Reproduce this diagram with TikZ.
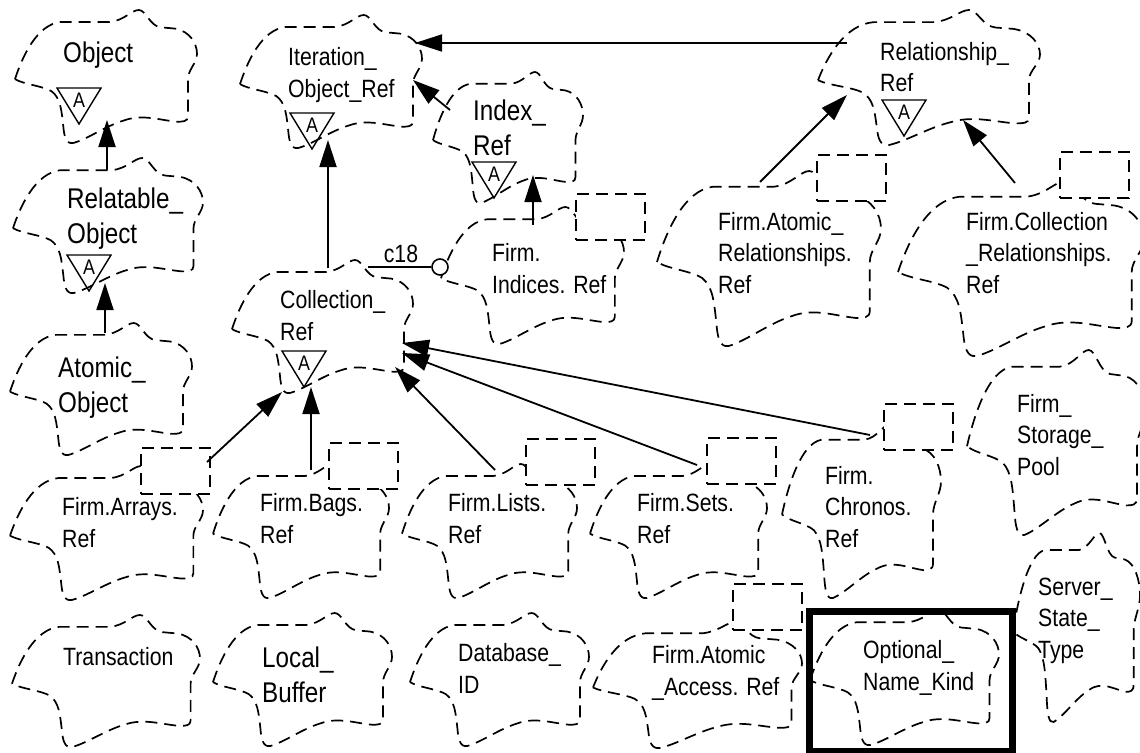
\documentclass[tikz,border=0pt]{standalone}
\usepackage{fontspec}
\setmainfont[FakeStretch=0.85]{Liberation Sans}
\usetikzlibrary{arrows.meta}
\newcommand\clsfont{\fontsize{25}{31.5}\selectfont}
\newcommand\clsbig{\fontsize{28.5}{35}\selectfont}
\tikzset{
  cls/.style={inner sep=0pt,anchor=base west,align=left,font=\clsfont},
  big/.style={font=\clsbig},
  cloudline/.style={dash pattern=on 12pt off 7pt,line width=1.7pt},
  parm/.style={draw,dash pattern=on 12pt off 7pt,line width=1.7pt,fill=white,inner sep=0pt,
    minimum width=69pt,minimum height=46pt,anchor=north west},
  inh/.style={-{Triangle[length=27pt,width=17pt]},line width=1.8pt},
  cloud/.pic={
    \draw[cloudline] (0,0.52) .. controls (0.04,0.35) and (0.12,0.11) .. (0.25,0.09)
      -- (0.52,0.09) .. controls (0.60,0.08) and (0.64,0) .. (0.68,0)
      .. controls (0.72,0) and (0.74,0.12) .. (0.80,0.13)
      -- (0.88,0.14) .. controls (0.96,0.16) and (1,0.25) .. (1,0.33)
      .. controls (1,0.40) and (0.95,0.45) .. (0.95,0.52)
      -- (0.95,0.80) .. controls (0.95,0.84) and (0.92,0.84) .. (0.89,0.84)
      .. controls (0.80,0.83) and (0.70,0.78) .. (0.60,0.83)
      .. controls (0.50,0.87) and (0.40,0.97) .. (0.32,1)
      .. controls (0.28,1.01) and (0.27,0.95) .. (0.265,0.87)
      .. controls (0.255,0.75) and (0.25,0.66) .. (0.20,0.61)
      .. controls (0.15,0.57) and (0.05,0.56) .. (0,0.52);
  },
  abst/.pic={
    \draw[line width=1.4pt] (0,0) -- (44,0) -- (22,36) -- cycle;
    \node[inner sep=0pt,font=\fontsize{21}{21}\selectfont] (-txt) at (22,12.5) {A};
  }
}

\begin{document}
\begin{tikzpicture}[x=1pt,y=-1pt]
\useasboundingbox (0,0) rectangle (1140,752);

% class clouds
\pic[xscale=182,yscale=133] at (15,10) {cloud};
\pic[xscale=190,yscale=135] at (13,158) {cloud};
\pic[xscale=182,yscale=132] at (10,323) {cloud};
\pic[xscale=182,yscale=133] at (240,15) {cloud};
\pic[xscale=150,yscale=131] at (433,72) {cloud};
\pic[xscale=183,yscale=137] at (441,207) {cloud};
\pic[xscale=181,yscale=133] at (232,260) {cloud};
\pic[xscale=222,yscale=135] at (818,10) {cloud};
\pic[xscale=224,yscale=175] at (657,171) {cloud};
\pic[xscale=246,yscale=175] at (898,181) {cloud};
\pic[xscale=193,yscale=134] at (10,466) {cloud};
\pic[xscale=176,yscale=134] at (213,464) {cloud};
\pic[xscale=175,yscale=134] at (402,464) {cloud};
\pic[xscale=177,yscale=134] at (590,464) {cloud};
\pic[xscale=159,yscale=174] at (782,424) {cloud};
\pic[xscale=179,yscale=185] at (967,350) {cloud};
\pic[xscale=127,yscale=189] at (1013,533) {cloud};
\pic[xscale=188,yscale=132] at (12,615) {cloud};
\pic[xscale=179,yscale=133] at (213,613) {cloud};
\pic[xscale=179,yscale=133] at (410,613) {cloud};
\pic[xscale=209,yscale=126] at (593,622) {cloud};

% generic parameters
\node[parm] (indices-p) at (575,193) {};
\node[parm] (arel-p) at (816,154) {};
\node[parm] (crel-p) at (1059,151) {};
\node[parm] (arrays-p) at (140,447) {};
\node[parm] (bags-p) at (328,442) {};
\node[parm] (lists-p) at (525,438) {};
\node[parm] (sets-p) at (706,437) {};
\node[parm] (chron-p) at (883,403) {};
\node[parm] (acc-p) at (732,583) {};

% selected class
\node[draw,line width=7pt,fill=white,inner sep=0pt,minimum width=203pt,minimum height=140pt,
  anchor=north west] (optbox) at (806,608) {};
\pic[xscale=189,yscale=135] at (810,610) {cloud};

% abstract adornments
\pic (obj-a) at (57,88) {abst};
\pic (rel-a) at (67,255) {abst};
\pic (iter-a) at (290,113) {abst};
\pic (index-a) at (472,162) {abst};
\pic (coll-a) at (282,351) {abst};
\pic (rship-a) at (882,100) {abst};

% class names (placed at the baseline of the last line)
\node[cls,big] (obj) at (63,63) {Object};
\node[cls,big] (rel) at (67,243) {Relatable\_\\Object};
\node[cls,big] (atom) at (58,412) {Atomic\_\\Object};
\node[cls] (iter) at (288,97) {Iteration\_\\Object\_Ref};
\node[cls,big] (index) at (473,155) {Index\_\\Ref};
\node[cls] (indices) at (492,293) {Firm.\\Indices. Ref};
\node[cls] (coll) at (280,340) {Collection\_\\Ref};
\node[cls] (rship) at (880,92) {Relationship\_\\Ref};
\node[cls] (arel) at (718,293) {Firm.Atomic\_\\Relationships.\\Ref};
\node[cls] (crel) at (966,293) {Firm.Collection\\\_Relationships.\\Ref};
\node[cls] (arrays) at (62,547) {Firm.Arrays.\\Ref};
\node[cls] (bags) at (260,543) {Firm.Bags.\\Ref};
\node[cls] (lists) at (448,543) {Firm.Lists.\\Ref};
\node[cls] (sets) at (637,543) {Firm.Sets.\\Ref};
\node[cls] (chron) at (825,547) {Firm.\\Chronos.\\Ref};
\node[cls] (pool) at (1017,475) {Firm\_\\Storage\_\\Pool};
\node[cls] (server) at (1038,658) {Server\_\\State\_\\Type};
\node[cls] (opt) at (863,690) {Optional\_\\Name\_Kind};
\node[cls] (trans) at (63,665) {Transaction};
\node[cls,big] (local) at (262,702) {Local\_\\Buffer};
\node[cls] (dbid) at (458,693) {Database\_\\ID};
\node[cls] (acc) at (652,695) {Firm.Atomic\\\_Access. Ref};

% connector ends
\coordinate (obj-in) at (107,120);
\coordinate (rel-out) at (107,170);
\coordinate (rel-in) at (105,283);
\coordinate (atom-out) at (105,333);
\coordinate (iter-in1) at (328,140);
\coordinate (coll-out) at (328,268);
\coordinate (iter-in2) at (413,80);
\coordinate (index-out) at (450,110);
\coordinate (iter-in3) at (415,43);
\coordinate (rship-out) at (847,43);
\coordinate (index-in) at (533,175);
\coordinate (indices-out) at (533,225);
\coordinate (rship-in1) at (847,95);
\coordinate (arel-out) at (760,182);
\coordinate (rship-in2) at (963,120);
\coordinate (crel-out) at (1015,183);
\coordinate (coll-in1) at (282,392);
\coordinate (arrays-out) at (207,462);
\coordinate (coll-in2) at (311,387);
\coordinate (bags-out) at (311,470);
\coordinate (coll-in3) at (395,367);
\coordinate (lists-out) at (495,470);
\coordinate (coll-in4) at (402,353);
\coordinate (sets-out) at (697,465);
\coordinate (coll-in5) at (402,343);
\coordinate (chron-out) at (870,435);
\coordinate (coll-use) at (368,267);

% inheritance
\draw[inh] (rel-out) -- (obj-in);
\draw[inh] (atom-out) -- (rel-in);
\draw[inh] (coll-out) -- (iter-in1);
\draw[inh] (index-out) -- (iter-in2);
\draw[inh] (rship-out) -- (iter-in3);
\draw[inh] (indices-out) -- (index-in);
\draw[inh] (arel-out) -- (rship-in1);
\draw[inh] (crel-out) -- (rship-in2);
\draw[inh] (arrays-out) -- (coll-in1);
\draw[inh] (bags-out) -- (coll-in2);
\draw[inh] (lists-out) -- (coll-in3);
\draw[inh] (sets-out) -- (coll-in4);
\draw[inh] (chron-out) -- (coll-in5);

% using relation
\node[draw,circle,fill=white,line width=1.6pt,minimum size=16pt,inner sep=0pt] (c18) at (440,267) {};
\draw[line width=1.6pt] (coll-use) -- (c18.west);
\node[cls,anchor=base] (c18lbl) at (401,262) {c18};

\end{tikzpicture}
\end{document}
